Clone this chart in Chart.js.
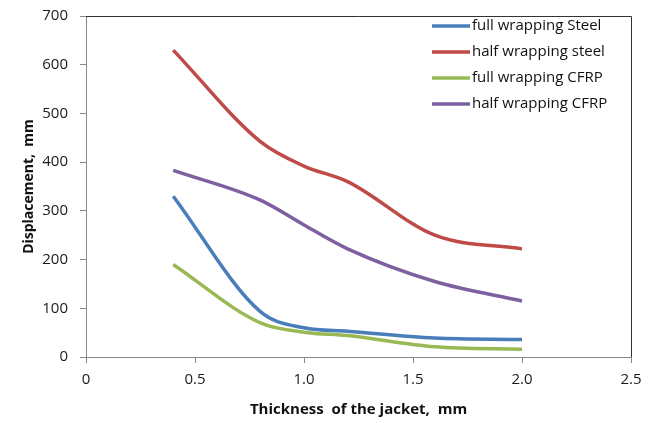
<!DOCTYPE html>
<html>
<head>
<meta charset="utf-8">
<script src="https://cdn.jsdelivr.net/npm/chart.js@4.4.1/dist/chart.umd.min.js"></script>
<style>
  html, body { margin: 0; padding: 0; background: #fff; }
  #wrap { width: 657px; height: 423px; }
</style>
</head>
<body>
<div id="wrap"><canvas id="jacketChart" width="657" height="423"></canvas></div>
<script>
// thickness of the jacket, mm
const thickness = [0.4, 0.8, 1.0, 1.2, 1.6, 2.0];
// displacement, mm
const fullSteel = [330, 93, 60, 53, 39, 36];
const halfSteel = [630, 442, 392, 360, 250, 222];
const fullCFRP = [190, 70, 51, 44, 21, 16];
const halfCFRP = [383, 322, 271, 222, 155, 115];
const xTicks = [0, 0.5, 1, 1.5, 2, 2.5];
const yTicks = [0, 100, 200, 300, 400, 500, 600, 700];

const seriesNames = ["full wrapping Steel", "half wrapping steel", "full wrapping CFRP", "half wrapping CFRP"];
const seriesColors = ["#4A7EBB", "#BE4B48", "#98B954", "#7D60A0"];
const seriesValues = [fullSteel, halfSteel, fullCFRP, halfCFRP];

const fontFam = "'Open Sans', Lato, sans-serif";

// legend inside the plot + box border on top/right
const boxAndLegend = {
  id: "boxAndLegend",
  afterDatasetsDraw(chart) {
    const c = chart.ctx;
    const a = chart.chartArea;
    c.save();
    c.strokeStyle = "#333";
    c.lineWidth = 1;
    c.beginPath();
    c.moveTo(a.left, a.top + 0.5);
    c.lineTo(a.right + 0.5, a.top + 0.5);
    c.lineTo(a.right + 0.5, a.bottom);
    c.stroke();

    c.font = "15px " + fontFam;
    c.textBaseline = "middle";
    chart.data.datasets.forEach((ds, i) => {
      const y = 26 + i * 26;
      c.strokeStyle = ds.borderColor;
      c.lineWidth = 3.5;
      c.beginPath();
      c.moveTo(432, y);
      c.lineTo(470, y);
      c.stroke();
      c.fillStyle = "#111";
      c.fillText(ds.label, 472, y);
    });
    c.restore();
  }
};

new Chart(document.getElementById("jacketChart"), {
  type: "line",
  data: {
    datasets: seriesNames.map((name, i) => ({
      label: name,
      data: thickness.map((t, j) => ({ x: t, y: seriesValues[i][j] })),
      borderColor: seriesColors[i],
      backgroundColor: seriesColors[i],
      borderWidth: 3.5,
      pointRadius: 0,
      tension: 0.4,
      cubicInterpolationMode: "monotone",
      fill: false
    }))
  },
  options: {
    responsive: false,
    animation: false,
    layout: { padding: { left: 0, right: 26, top: 16, bottom: 0 } },
    plugins: { legend: { display: false }, tooltip: { enabled: false } },
    scales: {
      x: {
        type: "linear",
        min: 0,
        max: 2.5,
        afterBuildTicks: s => { s.ticks = xTicks.map(v => ({ value: v })); },
        afterFit: s => { s.height = 66; s.paddingLeft = 0; s.paddingRight = 0; },
        grid: { drawOnChartArea: false, drawTicks: true, tickLength: 6, color: "#888" },
        border: { color: "#888" },
        ticks: { color: "#1a1a1a", font: { family: fontFam, size: 15 }, padding: 8 },
        title: {
          display: true,
          text: "Thickness  of the jacket,  mm",
          color: "#111",
          font: { family: fontFam, size: 15, weight: "bold" },
          padding: { top: 4 }
        }
      },
      y: {
        min: 0,
        max: 700,
        afterBuildTicks: s => { s.ticks = yTicks.map(v => ({ value: v })); },
        afterFit: s => { s.width = 86; s.paddingTop = 0; s.paddingBottom = 0; },
        grid: { drawOnChartArea: false, drawTicks: true, tickLength: 6, color: "#888" },
        border: { color: "#888" },
        ticks: { color: "#1a1a1a", font: { family: fontFam, size: 15 }, padding: 12 },
        title: {
          display: true,
          text: "Displacement,  mm",
          color: "#111",
          font: { family: fontFam, size: 14, weight: "bold" },
          padding: { top: 21, bottom: 0 }
        }
      }
    }
  },
  plugins: [boxAndLegend]
});
</script>
</body>
</html>
